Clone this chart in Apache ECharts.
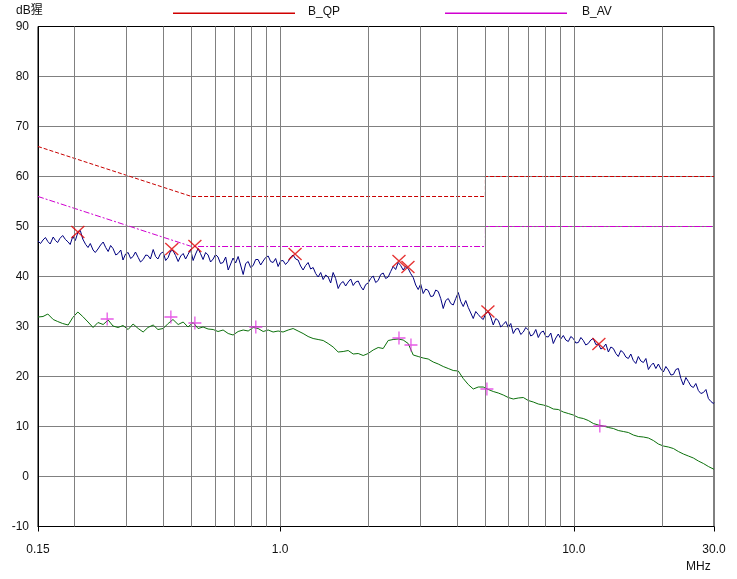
<!DOCTYPE html>
<html>
<head>
<meta charset="utf-8">
<script src="https://cdn.jsdelivr.net/npm/echarts@6/dist/echarts.min.js"></script>
<style>
html,body{margin:0;padding:0;background:#fff;}
#chart{width:737px;height:579px;}
</style>
</head>
<body>
<div id="chart"></div>
<script>
// ---- data ----
// peak trace sweep (MHz) and level (dB)
const peakFreqs = [
 0.150,0.153,0.156,0.159,0.162,0.165,0.169,0.172,0.175,0.178,
 0.182,0.186,0.190,0.193,0.197,0.201,0.205,0.209,0.213,0.218,
 0.222,0.226,0.231,0.235,0.240,0.245,0.250,0.255,0.260,0.265,
 0.270,0.276,0.281,0.287,0.292,0.298,0.304,0.310,0.316,0.322,
 0.329,0.335,0.342,0.349,0.355,0.362,0.370,0.377,0.384,0.392,
 0.400,0.408,0.416,0.424,0.432,0.441,0.450,0.459,0.468,0.477,
 0.486,0.496,0.506,0.516,0.526,0.536,0.547,0.558,0.569,0.580,
 0.592,0.603,0.615,0.627,0.640,0.653,0.666,0.679,0.692,0.706,
 0.720,0.734,0.749,0.764,0.779,0.794,0.810,0.826,0.842,0.859,
 0.876,0.893,0.911,0.929,0.947,0.966,0.985,1.004,1.024,1.044,
 1.066,1.087,1.108,1.130,1.152,1.175,1.198,1.222,1.246,1.271,
 1.296,1.322,1.348,1.375,1.402,1.430,1.458,1.487,1.516,1.546,
 1.577,1.608,1.640,1.672,1.706,1.740,1.774,1.809,1.845,1.882,
 1.919,1.957,1.995,2.034,2.075,2.116,2.158,2.201,2.244,2.288,
 2.334,2.380,2.427,2.475,2.524,2.574,2.625,2.677,2.730,2.784,
 2.840,2.896,2.953,3.011,3.071,3.132,3.194,3.257,3.322,3.388,
 3.455,3.523,3.593,3.664,3.737,3.811,3.886,3.963,4.042,4.122,
 4.203,4.286,4.372,4.459,4.546,4.636,4.728,4.822,4.917,5.014,
 5.114,5.215,5.318,5.423,5.531,5.640,5.752,5.866,5.982,6.100,
 6.221,6.344,6.470,6.598,6.729,6.862,6.998,7.136,7.278,7.422,
 7.569,7.719,7.872,8.028,8.186,8.348,8.514,8.682,8.854,9.029,
 9.208,9.390,9.577,9.766,9.960,10.16,10.36,10.57,10.77,10.98,
 11.20,11.42,11.65,11.88,12.12,12.36,12.60,12.85,13.11,13.37,
 13.63,13.90,14.17,14.45,14.74,15.03,15.33,15.63,15.94,16.26,
 16.58,16.91,17.25,17.59,17.94,18.29,18.65,19.02,19.40,19.78,
 20.17,20.57,20.98,21.40,21.82,22.25,22.69,23.14,23.60,24.07,
 24.54,25.03,25.52,26.02,26.54,27.07,27.61,28.16,28.71,29.28,
 29.86,30.0
];
const peakLevels = [
 47.1,46.6,47.3,47.8,47.0,46.5,47.9,47.2,46.8,47.6,
 48.2,47.4,46.9,46.4,48.0,47.2,48.8,49.2,47.5,46.4,
 45.8,46.6,45.3,44.8,45.5,46.3,46.9,45.8,45.0,46.2,
 45.6,44.3,44.6,45.3,43.3,44.5,44.8,43.6,44.0,44.9,
 43.8,42.9,43.4,44.3,44.2,43.5,45.4,44.0,43.5,44.6,
 44.9,43.2,43.8,45.1,45.2,44.2,43.0,44.1,44.6,43.5,
 44.4,45.4,43.2,44.5,45.6,44.6,43.4,44.8,44.3,42.9,
 43.5,44.4,43.9,42.6,42.8,43.9,41.3,42.5,43.7,42.7,
 44.0,42.3,40.4,42.6,43.0,41.8,42.2,43.4,43.4,42.3,
 43.1,43.8,44.1,43.0,42.8,43.6,42.0,43.1,43.2,42.4,
 43.0,43.9,44.3,43.5,43.3,42.1,41.3,42.2,42.8,41.5,
 41.8,40.6,39.9,40.8,39.4,40.3,39.9,38.7,40.8,39.6,
 37.6,38.6,39.0,38.1,38.9,39.5,38.2,38.9,39.1,38.0,
 37.3,38.4,38.7,39.6,40.1,38.8,39.2,40.4,40.7,39.6,
 39.9,41.0,42.0,41.4,42.8,42.2,41.3,42.0,41.6,40.6,
 39.8,38.3,37.4,38.5,36.6,37.5,37.2,36.0,36.1,37.3,
 37.0,35.6,33.6,35.2,35.6,34.6,34.3,35.6,36.8,35.0,
 34.0,35.2,33.8,32.7,31.6,33.0,32.4,31.8,31.4,32.6,
 33.0,31.9,30.3,31.6,31.2,29.9,30.4,31.0,29.8,30.6,
 28.6,29.5,29.6,28.4,28.9,29.8,29.3,28.1,28.4,29.4,
 27.8,28.8,29.1,28.0,27.9,28.7,26.6,27.7,28.5,27.5,
 28.2,27.3,27.0,28.0,27.6,26.7,26.8,27.8,27.2,26.3,
 26.6,27.3,27.6,26.4,26.5,25.5,25.8,26.5,24.9,25.9,
 25.6,24.6,24.0,25.2,24.8,23.9,23.6,24.5,23.2,22.6,
 24.0,23.1,22.8,23.6,21.4,22.2,22.7,21.6,22.5,21.5,
 20.9,22.0,21.3,20.3,20.4,21.4,21.6,19.6,18.3,19.8,
 19.0,18.1,17.8,18.6,17.2,16.6,16.8,17.4,15.6,15.0,
 14.6,14.8
];
// average trace sweep (MHz) and level (dB)
const avgFreqs = [
 0.150,0.156,0.162,0.169,0.175,0.182,0.190,0.197,0.205,0.213,
 0.222,0.231,0.240,0.250,0.260,0.270,0.281,0.292,0.304,0.316,
 0.329,0.342,0.355,0.370,0.384,0.400,0.416,0.432,0.450,0.468,
 0.486,0.506,0.526,0.547,0.569,0.592,0.615,0.640,0.666,0.692,
 0.720,0.749,0.779,0.810,0.842,0.876,0.911,0.947,0.985,1.024,
 1.066,1.108,1.152,1.198,1.246,1.296,1.348,1.402,1.458,1.516,
 1.577,1.640,1.706,1.774,1.845,1.919,1.995,2.075,2.158,2.244,
 2.334,2.427,2.524,2.625,2.730,2.840,2.953,3.071,3.194,3.322,
 3.455,3.593,3.737,3.886,4.042,4.203,4.372,4.546,4.728,4.917,
 5.114,5.318,5.531,5.752,5.982,6.221,6.470,6.729,6.998,7.278,
 7.569,7.872,8.186,8.514,8.854,9.208,9.577,9.960,10.36,10.77,
 11.20,11.65,12.12,12.60,13.11,13.63,14.17,14.74,15.33,15.94,
 16.58,17.25,17.94,18.65,19.40,20.17,20.98,21.82,22.69,23.60,
 24.54,25.52,26.54,27.61,28.71,29.86,30.0
];
const avgLevels = [
 31.9,32.0,32.5,31.4,31.0,30.6,30.3,31.8,32.9,32.0,
 30.9,29.8,30.8,30.4,31.3,30.1,29.8,30.2,29.4,30.5,
 29.6,28.9,29.8,30.3,29.4,29.6,30.6,31.4,30.4,30.9,
 29.9,30.8,29.6,29.9,29.5,29.4,29.0,29.3,28.6,28.3,
 29.0,29.3,29.1,29.8,29.6,29.0,29.3,28.9,29.1,28.9,
 29.3,29.6,29.1,28.6,28.0,27.6,27.4,27.2,26.6,25.9,
 24.9,25.0,25.2,24.5,24.6,24.2,24.6,25.3,25.8,25.6,
 27.2,27.4,27.5,27.3,26.6,24.3,24.0,23.7,23.5,22.9,
 22.5,22.0,21.6,21.2,21.1,19.6,18.4,17.5,17.9,17.9,
 17.4,17.0,16.7,16.3,15.8,15.5,15.7,15.8,15.2,14.9,
 14.5,14.3,14.0,13.5,13.4,12.9,12.6,12.3,11.8,11.6,
 11.2,10.6,10.3,10.1,9.8,9.6,9.2,9.0,8.8,8.3,
 8.0,7.9,7.7,7.2,6.5,6.1,5.9,5.6,5.0,4.5,
 4.1,3.7,3.1,2.6,2.0,1.5,1.4
];
const qpLimitFreq  = [0.15, 0.5, 5, 5, 30];
const qpLimitLevel = [66, 56, 56, 60, 60];
const avLimitFreq  = [0.15, 0.5, 5, 5, 30];
const avLimitLevel = [56, 46, 46, 50, 50];
const qpMarkFreq  = [0.205, 0.428, 0.513, 1.125, 2.54, 2.725, 5.10, 12.17];
const qpMarkLevel = [48.9, 45.5, 46.1, 44.5, 43.1, 41.9, 33.0, 26.5];
const avMarkFreq  = [0.258, 0.425, 0.513, 0.827, 2.54, 2.79, 5.06, 12.26];
const avMarkLevel = [31.5, 31.9, 30.7, 29.9, 27.7, 26.3, 17.5, 10.1];
const xTickValues = [0.15, 1, 10, 30];
const xTickLabels = ['0.15', '1.0', '10.0', '30.0'];
const gridFreqs = [0.2,0.3,0.4,0.5,0.6,0.7,0.8,0.9,1,2,3,4,5,6,7,8,9,10,20];
const yMin = -10, yMax = 90, yStep = 10;

// ---- build ----
const zip = (a, b) => a.map((v, i) => [v, b[i]]);
const FONT = '"Liberation Sans", Arial, "Noto Sans CJK SC", sans-serif';
const chart = echarts.init(document.getElementById('chart'), null, {renderer: 'canvas'});

const option = {
  animation: false,
  backgroundColor: '#fff',
  grid: {left: 38, right: 23, top: 26.5, bottom: 52.5, show: true, borderColor: '#000', borderWidth: 1, backgroundColor: 'transparent'},
  xAxis: {
    type: 'log', logBase: 10, min: 0.15, max: 30,
    axisLine: {show: true, onZero: false, lineStyle: {color: '#000', width: 1}},
    axisTick: {show: true, length: 5, lineStyle: {color: '#000'}, customValues: xTickValues},
    axisLabel: {
      show: true, margin: 17, color: '#111', fontFamily: FONT, fontSize: 12,
      customValues: xTickValues,
      formatter: v => { const i = xTickValues.findIndex(t => Math.abs(t - v) < 1e-6); return i >= 0 ? xTickLabels[i] : ''; }
    },
    splitLine: {show: false},
    minorTick: {show: false}
  },
  yAxis: {
    type: 'value', min: yMin, max: yMax, interval: yStep,
    axisLine: {show: true, onZero: false, lineStyle: {color: '#000', width: 1}},
    axisTick: {show: false},
    axisLabel: {margin: 9, color: '#111', fontFamily: FONT, fontSize: 12},
    splitLine: {show: true, showMinLine: false, showMaxLine: false, lineStyle: {color: '#808080', width: 1}}
  },
  graphic: [
    {type: 'text', left: 16, top: 5, style: {text: 'dB猩', fill: '#111', font: '12px ' + FONT}},
    {type: 'text', left: 686, top: 561, style: {text: 'MHz', fill: '#111', font: '12px ' + FONT}},
    {type: 'rect', shape: {x: 173, y: 12.5, width: 122, height: 1.5}, style: {fill: '#d00000'}},
    {type: 'text', left: 308, top: 6, style: {text: 'B_QP', fill: '#111', font: '12px ' + FONT}},
    {type: 'rect', shape: {x: 445, y: 12.5, width: 122, height: 1.5}, style: {fill: '#d000d0'}},
    {type: 'text', left: 582, top: 6, style: {text: 'B_AV', fill: '#111', font: '12px ' + FONT}}
  ],
  series: [
    {
      name: 'grid', type: 'line', data: [], silent: true,
      markLine: {
        silent: true, symbol: ['none', 'none'], label: {show: false},
        lineStyle: {color: '#808080', width: 1, type: 'solid'},
        emphasis: {disabled: true},
        data: gridFreqs.map(f => ({xAxis: f}))
      }
    },
    {
      name: 'B_QP', type: 'line', data: zip(qpLimitFreq, qpLimitLevel), showSymbol: false, silent: true,
      lineStyle: {color: '#c80000', width: 1, type: [4, 2]}, z: 3
    },
    {
      name: 'B_AV', type: 'line', data: zip(avLimitFreq, avLimitLevel), showSymbol: false, silent: true,
      lineStyle: {color: '#d000d0', width: 1, type: [6, 2, 2, 2]}, z: 3
    },
    {
      name: 'Peak', type: 'line', data: zip(peakFreqs, peakLevels), showSymbol: false, silent: true,
      lineStyle: {color: '#000080', width: 1}, z: 4
    },
    {
      name: 'Average', type: 'line', data: zip(avgFreqs, avgLevels), showSymbol: false, silent: true,
      lineStyle: {color: '#0b700b', width: 1}, z: 4
    },
    {
      name: 'QP marks', type: 'scatter', data: zip(qpMarkFreq, qpMarkLevel), silent: true,
      symbol: 'path://M0,0L10,10M10,0L0,10', symbolSize: [13, 12],
      itemStyle: {color: 'none', borderColor: '#e00000', borderWidth: 1.3}, z: 6
    },
    {
      name: 'AV marks', type: 'scatter', data: zip(avMarkFreq, avMarkLevel), silent: true,
      symbol: 'path://M5,0L5,10M0,5L10,5', symbolSize: [13, 13],
      itemStyle: {color: 'none', borderColor: '#e030e0', borderWidth: 1.3}, z: 6
    }
  ]
};
chart.setOption(option);
</script>
</body>
</html>
